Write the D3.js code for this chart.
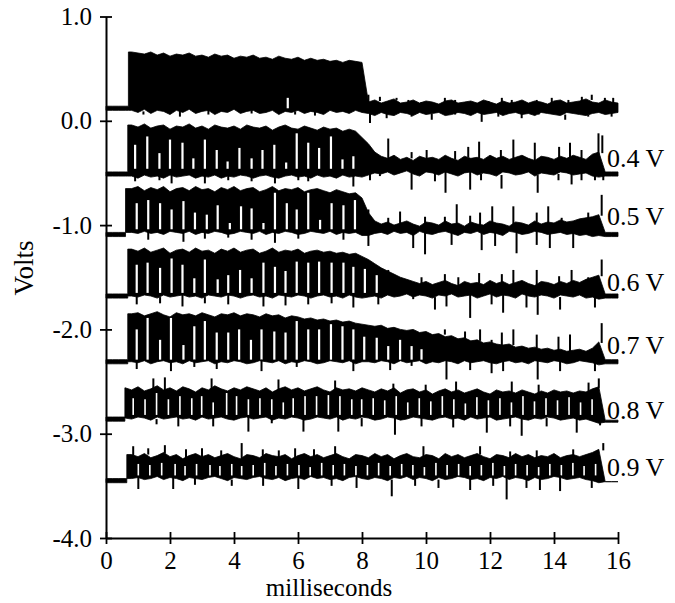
<!DOCTYPE html>
<html><head><meta charset="utf-8">
<script src="https://cdn.jsdelivr.net/npm/d3@7"></script>
<style>body{margin:0;background:#fff}svg{display:block}
.ser{font-family:"Liberation Serif","DejaVu Serif","Noto Serif","Tinos","FreeSerif","Nimbus Roman","Nimbus Roman No9 L","STIX Two Text","Georgia","Times New Roman",Times,serif}</style>
</head><body><svg id="chart" width="675" height="603"></svg>
<script>
// ---------- data ----------
const timeGrid = [0,0.2,0.4,0.6,0.8,1,1.2,1.4,1.6,1.8,2,2.2,2.4,2.6,2.8,3,3.2,3.4,3.6,3.8,4,4.2,4.4,4.6,4.8,5,5.2,5.4,5.6,5.8,6,6.2,6.4,6.6,6.8,7,7.2,7.4,7.6,7.8,8,8.2,8.4,8.6,8.8,9,9.2,9.4,9.6,9.8,10,10.2,10.4,10.6,10.8,11,11.2,11.4,11.6,11.8,12,12.2,12.4,12.6,12.8,13,13.2,13.4,13.6,13.8,14,14.2,14.4,14.6,14.8,15,15.2,15.4,15.6,15.8,16];
const xTickValues = [0,2,4,6,8,10,12,14,16];
const yTickValues = [1,0,-1,-2,-3,-4];
const yTickLabels = ["1.0","0.0","-1.0","-2.0","-3.0","-4.0"];
const traceLabels = ["", "0.4 V", "0.5 V", "0.6 V", "0.7 V", "0.8 V", "0.9 V"];
const labelLevels = [null, -0.36, -0.92, -1.55, -2.15, -2.78, -3.32];
const onsets = [0.70, 0.68, 0.61, 0.68, 0.68, 0.59, 0.65];

// upper / lower edge of the dense band of each trace (volts, on timeGrid)
const hi1 = [0.14,0.14,0.14,0.14,
0.66,0.65,0.64,0.66,0.63,0.65,0.62,0.64,0.63,0.65,0.62,0.63,0.61,0.64,0.62,0.63,0.60,0.62,0.61,0.63,0.60,0.61,0.59,0.62,0.60,0.59,0.61,0.58,0.60,0.58,0.59,0.57,0.58,0.56,0.58,0.57,0.56,
0.18,0.20,0.17,0.19,0.21,0.17,0.18,0.20,0.17,0.19,0.18,0.16,0.19,0.20,0.17,0.18,0.19,0.17,0.20,0.18,0.16,0.19,0.17,0.18,0.20,0.17,0.19,0.18,0.16,0.19,0.20,0.17,0.18,0.19,0.21,0.18,0.17,0.20,0.18,0.17];
const lo1 = [0.10,0.10,0.10,0.10,
0.10,0.08,0.11,0.07,0.10,0.09,0.06,0.10,0.08,0.11,0.07,0.09,0.10,0.06,0.09,0.08,0.11,0.07,0.09,0.10,0.07,0.08,0.10,0.06,0.09,0.08,0.10,0.07,0.09,0.08,0.06,0.10,0.08,0.09,0.07,0.10,0.08,
0.07,0.05,0.08,0.06,0.05,0.08,0.07,0.05,0.08,0.06,0.07,0.08,0.05,0.06,0.08,0.07,0.05,0.08,0.06,0.07,0.08,0.05,0.07,0.08,0.06,0.07,0.05,0.08,0.07,0.06,0.05,0.08,0.07,0.06,0.05,0.07,0.08,0.06,0.07,0.08];

const hi2 = [-0.49,-0.49,-0.49,-0.49,
-0.04,-0.06,-0.03,-0.07,-0.05,-0.04,-0.08,-0.05,-0.06,-0.03,-0.07,-0.05,-0.08,-0.04,-0.06,-0.07,-0.05,-0.08,-0.04,-0.06,-0.07,-0.05,-0.09,-0.06,-0.04,-0.07,-0.08,-0.05,-0.07,-0.09,-0.06,-0.08,-0.07,-0.10,-0.08,-0.10,-0.16,
-0.22,-0.30,-0.34,-0.36,-0.33,-0.37,-0.35,-0.38,-0.34,-0.36,-0.35,-0.37,-0.33,-0.36,-0.38,-0.34,-0.36,-0.35,-0.37,-0.33,-0.36,-0.34,-0.37,-0.35,-0.33,-0.36,-0.38,-0.34,-0.35,-0.37,-0.34,-0.36,-0.33,-0.35,-0.37,-0.32,-0.30,-0.49,-0.49,-0.49];
const lo2 = [-0.53,-0.53,-0.53,-0.53,
-0.53,-0.55,-0.52,-0.54,-0.53,-0.55,-0.52,-0.54,-0.53,-0.52,-0.55,-0.53,-0.54,-0.52,-0.55,-0.53,-0.54,-0.52,-0.53,-0.55,-0.53,-0.52,-0.54,-0.55,-0.53,-0.52,-0.54,-0.53,-0.55,-0.52,-0.54,-0.53,-0.55,-0.52,-0.54,-0.53,-0.54,
-0.52,-0.50,-0.51,-0.49,-0.52,-0.50,-0.48,-0.51,-0.53,-0.49,-0.50,-0.52,-0.49,-0.51,-0.53,-0.50,-0.49,-0.52,-0.50,-0.51,-0.53,-0.49,-0.50,-0.52,-0.51,-0.49,-0.53,-0.50,-0.51,-0.52,-0.49,-0.50,-0.52,-0.51,-0.50,-0.53,-0.54,-0.53,-0.53,-0.53];

const hi3 = [-1.07,-1.07,-1.07,-1.07,
-0.65,-0.63,-0.67,-0.64,-0.66,-0.63,-0.68,-0.65,-0.64,-0.67,-0.63,-0.66,-0.65,-0.68,-0.64,-0.66,-0.63,-0.67,-0.65,-0.64,-0.68,-0.66,-0.63,-0.67,-0.65,-0.66,-0.64,-0.68,-0.66,-0.65,-0.67,-0.69,-0.66,-0.68,-0.70,-0.69,-0.74,
-0.88,-0.96,-0.99,-0.97,-1.00,-0.98,-0.96,-0.99,-1.01,-0.97,-0.98,-1.00,-0.96,-0.99,-0.98,-1.01,-0.97,-0.99,-1.00,-0.96,-0.98,-0.99,-1.01,-0.97,-0.98,-1.00,-0.96,-0.99,-0.97,-0.98,-0.95,-0.97,-0.96,-0.94,-0.93,-0.92,-0.90,-1.07,-1.07,-1.07];
const lo3 = [-1.11,-1.11,-1.11,-1.11,
-1.07,-1.08,-1.06,-1.08,-1.07,-1.09,-1.06,-1.07,-1.08,-1.06,-1.09,-1.07,-1.08,-1.06,-1.07,-1.09,-1.08,-1.06,-1.07,-1.08,-1.06,-1.09,-1.07,-1.08,-1.06,-1.07,-1.09,-1.08,-1.06,-1.07,-1.08,-1.06,-1.09,-1.07,-1.08,-1.07,-1.10,
-1.10,-1.08,-1.07,-1.09,-1.06,-1.08,-1.07,-1.10,-1.06,-1.08,-1.09,-1.07,-1.06,-1.08,-1.10,-1.07,-1.08,-1.06,-1.09,-1.07,-1.08,-1.10,-1.06,-1.07,-1.09,-1.08,-1.06,-1.07,-1.09,-1.08,-1.07,-1.09,-1.08,-1.10,-1.09,-1.11,-1.10,-1.11,-1.11,-1.11];

const hi4 = [-1.66,-1.66,-1.66,-1.66,
-1.23,-1.25,-1.22,-1.26,-1.24,-1.22,-1.27,-1.24,-1.23,-1.26,-1.22,-1.25,-1.24,-1.27,-1.23,-1.25,-1.22,-1.26,-1.24,-1.23,-1.27,-1.25,-1.22,-1.26,-1.24,-1.25,-1.23,-1.27,-1.25,-1.24,-1.26,-1.25,-1.27,-1.26,-1.28,-1.27,-1.30,
-1.33,-1.37,-1.41,-1.44,-1.47,-1.50,-1.52,-1.54,-1.56,-1.54,-1.57,-1.55,-1.53,-1.56,-1.58,-1.54,-1.56,-1.55,-1.57,-1.53,-1.56,-1.54,-1.57,-1.55,-1.53,-1.56,-1.58,-1.54,-1.55,-1.57,-1.54,-1.56,-1.53,-1.55,-1.52,-1.50,-1.48,-1.66,-1.66,-1.66];
const lo4 = [-1.70,-1.70,-1.70,-1.70,
-1.68,-1.69,-1.67,-1.68,-1.70,-1.67,-1.69,-1.68,-1.67,-1.69,-1.68,-1.70,-1.67,-1.68,-1.69,-1.67,-1.68,-1.70,-1.68,-1.67,-1.69,-1.68,-1.70,-1.67,-1.68,-1.69,-1.67,-1.68,-1.70,-1.68,-1.67,-1.69,-1.68,-1.70,-1.67,-1.69,-1.70,
-1.69,-1.68,-1.70,-1.67,-1.69,-1.68,-1.66,-1.69,-1.67,-1.68,-1.70,-1.67,-1.68,-1.66,-1.69,-1.68,-1.67,-1.70,-1.68,-1.66,-1.69,-1.67,-1.68,-1.70,-1.66,-1.68,-1.69,-1.67,-1.68,-1.70,-1.67,-1.68,-1.69,-1.67,-1.70,-1.69,-1.71,-1.70,-1.70,-1.70];

const hi5 = [-2.29,-2.29,-2.29,-2.29,
-1.85,-1.84,-1.87,-1.85,-1.83,-1.86,-1.88,-1.84,-1.86,-1.85,-1.87,-1.84,-1.86,-1.88,-1.85,-1.86,-1.84,-1.87,-1.85,-1.86,-1.88,-1.85,-1.87,-1.86,-1.89,-1.87,-1.88,-1.90,-1.89,-1.91,-1.90,-1.92,-1.91,-1.93,-1.92,-1.94,-1.95,
-1.96,-1.97,-1.96,-1.99,-1.98,-2.00,-2.01,-2.00,-2.03,-2.02,-2.05,-2.04,-2.07,-2.06,-2.09,-2.08,-2.11,-2.10,-2.13,-2.12,-2.14,-2.15,-2.14,-2.17,-2.16,-2.18,-2.17,-2.19,-2.18,-2.20,-2.19,-2.21,-2.20,-2.19,-2.21,-2.18,-2.12,-2.29,-2.29,-2.29];
const lo5 = [-2.33,-2.33,-2.33,-2.33,
-2.31,-2.32,-2.30,-2.33,-2.31,-2.30,-2.32,-2.31,-2.33,-2.30,-2.32,-2.31,-2.30,-2.33,-2.31,-2.32,-2.30,-2.31,-2.33,-2.32,-2.30,-2.31,-2.32,-2.30,-2.33,-2.31,-2.32,-2.30,-2.31,-2.33,-2.32,-2.30,-2.31,-2.32,-2.30,-2.33,-2.31,
-2.31,-2.32,-2.30,-2.31,-2.33,-2.30,-2.32,-2.31,-2.30,-2.33,-2.31,-2.32,-2.30,-2.31,-2.33,-2.30,-2.32,-2.31,-2.30,-2.32,-2.33,-2.31,-2.30,-2.32,-2.31,-2.33,-2.30,-2.31,-2.32,-2.30,-2.31,-2.33,-2.32,-2.30,-2.31,-2.32,-2.34,-2.33,-2.33,-2.33];

const hi6 = [-2.84,-2.84,-2.84,
-2.56,-2.58,-2.55,-2.59,-2.57,-2.54,-2.58,-2.56,-2.59,-2.55,
-2.57,-2.60,-2.56,-2.58,-2.54,-2.57,-2.59,-2.56,-2.58,-2.55,
-2.57,-2.59,-2.56,-2.60,-2.57,-2.55,-2.58,-2.56,-2.59,-2.57,
-2.55,-2.58,-2.60,-2.56,-2.58,-2.57,-2.59,-2.56,-2.58,-2.60,
-2.57,-2.59,-2.56,-2.61,-2.58,-2.57,-2.60,-2.58,-2.62,-2.59,
-2.57,-2.60,-2.58,-2.61,-2.59,-2.57,-2.60,-2.62,-2.58,-2.60,
-2.59,-2.61,-2.58,-2.60,-2.62,-2.59,-2.61,-2.58,-2.60,-2.59,
-2.61,-2.59,-2.60,-2.57,-2.55,
-2.87,-2.87,-2.87];
const lo6 = [-2.88,-2.88,-2.88,
-2.85,-2.86,-2.84,-2.85,-2.87,-2.84,-2.86,-2.85,-2.84,-2.86,
-2.85,-2.87,-2.84,-2.86,-2.85,-2.84,-2.86,-2.87,-2.85,-2.84,
-2.86,-2.85,-2.84,-2.87,-2.85,-2.86,-2.84,-2.85,-2.87,-2.86,
-2.84,-2.85,-2.86,-2.84,-2.87,-2.85,-2.86,-2.84,-2.85,-2.87,
-2.86,-2.84,-2.85,-2.87,-2.86,-2.84,-2.85,-2.86,-2.87,-2.85,
-2.84,-2.86,-2.85,-2.87,-2.84,-2.86,-2.85,-2.84,-2.87,-2.86,
-2.85,-2.84,-2.86,-2.87,-2.85,-2.86,-2.84,-2.85,-2.87,-2.86,
-2.85,-2.87,-2.86,-2.88,-2.90,
-2.89,-2.89,-2.89];

const hi7 = [-3.43,-3.43,-3.43,-3.43,
-3.20,-3.22,-3.19,-3.23,-3.21,-3.18,-3.22,-3.20,-3.24,-3.21,
-3.19,-3.22,-3.20,-3.23,-3.21,-3.19,-3.22,-3.24,-3.20,-3.21,
-3.23,-3.19,-3.21,-3.22,-3.20,-3.24,-3.21,-3.19,-3.22,-3.20,
-3.23,-3.21,-3.19,-3.22,-3.24,-3.20,-3.21,-3.23,-3.19,-3.22,
-3.20,-3.24,-3.21,-3.19,-3.22,-3.23,-3.20,-3.21,-3.24,-3.19,
-3.22,-3.20,-3.23,-3.21,-3.19,-3.22,-3.24,-3.20,-3.21,-3.23,
-3.19,-3.22,-3.20,-3.23,-3.21,-3.22,-3.19,-3.23,-3.21,-3.20,
-3.22,-3.20,-3.18,-3.15,
-3.46,-3.46,-3.46];
const lo7 = [-3.47,-3.47,-3.47,-3.47,
-3.43,-3.42,-3.44,-3.43,-3.41,-3.44,-3.42,-3.43,-3.45,-3.42,
-3.43,-3.44,-3.42,-3.41,-3.43,-3.45,-3.42,-3.43,-3.44,-3.42,
-3.41,-3.43,-3.44,-3.42,-3.45,-3.43,-3.42,-3.44,-3.41,-3.43,
-3.42,-3.44,-3.43,-3.45,-3.42,-3.41,-3.43,-3.44,-3.42,-3.43,
-3.45,-3.42,-3.43,-3.41,-3.44,-3.42,-3.43,-3.45,-3.42,-3.44,
-3.43,-3.41,-3.42,-3.44,-3.43,-3.45,-3.42,-3.43,-3.41,-3.44,
-3.42,-3.43,-3.45,-3.42,-3.44,-3.43,-3.41,-3.42,-3.44,-3.43,
-3.42,-3.44,-3.45,-3.47,
-3.46,-3.46,-3.46];

// isolated spikes [ms, volts]
const spikes1 = [[1.17,0.06],[2.31,0.04],[3.20,0.06],[4.55,0.07],[5.91,0.06],[6.53,0.05],
[8.20,0.25],[8.56,0.23],[9.08,0.22],[9.45,0.20],[9.86,0.18],[10.59,0.22],[10.91,0.20],[11.38,0.18],[11.95,0.19],[12.37,0.22],[12.68,0.20],[12.99,0.17],[13.46,0.20],[13.93,0.22],[14.45,0.20],[14.87,0.23],[15.18,0.25],[15.59,0.22],[15.85,0.22],
[8.25,-0.02],[8.77,0.025],[9.55,0.04],[10.18,0.01],[10.91,0.06],[11.74,-0.01],[12.26,0.04],[12.99,0.025],[13.52,0.06],[14.35,0.01],[15.07,0.04],[15.80,0.04]];
const spikes2 = [[0.91,-0.58],[1.67,-0.57],[2.05,-0.60],[3.09,-0.60],[3.82,-0.57],[4.55,-0.58],[5.28,-0.60],[6.01,-0.57],[6.32,-0.58],[7.73,-0.63],
[8.82,-0.17],[9.55,-0.30],[10.02,-0.28],[10.91,-0.29],[11.32,-0.25],[11.66,-0.20],[12.34,-0.28],[12.73,-0.18],[13.40,-0.21],[14.16,-0.25],[14.50,-0.21],[14.86,-0.28],[15.39,-0.12],[15.51,-0.14],
[8.25,-0.57],[8.56,-0.53],[9.55,-0.66],[10.28,-0.58],[10.61,-0.69],[11.38,-0.66],[11.72,-0.57],[12.36,-0.65],[13.49,-0.69],[14.14,-0.57],[14.55,-0.61],[14.86,-0.57],[15.28,-0.57],[15.54,-0.57]];
const spikes3 = [[1.32,-1.14],[2.42,-1.16],[3.09,-1.13],[3.82,-1.12],[4.55,-1.14],[5.28,-1.17],[6.01,-1.13],[7.42,-1.14],[8.20,-1.20],
[8.20,-0.85],[8.82,-0.93],[9.19,-0.87],[9.97,-0.92],[10.59,-0.92],[10.96,-0.80],[11.38,-0.91],[11.69,-0.88],[12.07,-0.82],[12.73,-0.82],[13.46,-0.88],[13.82,-0.82],[14.24,-0.93],[15.07,-0.88],[15.49,-0.71],
[9.60,-1.22],[9.97,-1.28],[10.80,-1.19],[11.74,-1.24],[12.16,-1.20],[12.83,-1.27],[13.46,-1.19],[13.87,-1.22],[14.60,-1.22]];
const spikes4 = [[0.96,-1.76],[1.69,-1.75],[2.39,-1.78],[3.09,-1.75],[3.82,-1.76],[4.92,-1.78],[5.61,-1.77],[6.32,-1.76],[7.05,-1.75],[7.73,-1.79],
[8.82,-1.43],[9.86,-1.50],[10.59,-1.47],[11.01,-1.50],[11.66,-1.46],[12.37,-1.47],[12.73,-1.43],[13.46,-1.43],[14.16,-1.49],[14.55,-1.43],[15.07,-1.50],[15.49,-1.33],
[8.51,-1.76],[9.60,-1.71],[10.28,-1.81],[10.64,-1.78],[11.38,-1.89],[12.05,-1.76],[12.41,-1.84],[13.14,-1.79],[13.49,-1.86],[14.19,-1.81],[15.28,-1.79]];
const spikes5 = [[0.96,-2.38],[2.03,-2.40],[2.76,-2.36],[3.46,-2.38],[4.86,-2.40],[5.96,-2.36],[7.73,-2.40],
[8.88,-2.39],[9.55,-2.35],[10.64,-2.48],[11.38,-2.39],[12.05,-2.42],[12.41,-2.40],[13.49,-2.48],[14.19,-2.40],[15.28,-2.40],
[10.59,-2.00],[11.22,-2.02],[11.69,-2.00],[12.05,-2.10],[12.37,-2.03],[12.73,-2.00],[13.46,-2.05],[14.14,-2.07],[14.50,-2.05],[15.49,-1.94]];
const spikes6 = [[1.48,-2.47],[1.84,-2.46],[3.30,-2.47],[5.39,-2.48],[7.16,-2.49],[8.98,-2.52],[9.99,-2.53],[10.94,-2.50],[12.68,-2.50],[13.52,-2.53],[15.08,-2.51],[15.40,-2.47],
[1.58,-2.91],[2.26,-2.93],[3.35,-2.93],[4.45,-2.98],[5.18,-2.90],[6.17,-2.98],[7.26,-2.98],[7.99,-2.93],[9.03,-3.01],[9.86,-2.93],[10.85,-2.94],[11.90,-2.99],[12.63,-2.93],[12.99,-3.02],[13.77,-2.93],[14.71,-2.99],[15.44,-2.92]];
const spikes7 = [[0.85,-3.12],[1.32,-3.14],[1.84,-3.11],[2.50,-3.15],[3.00,-3.14],[3.60,-3.16],[4.24,-3.09],[4.90,-3.15],[5.40,-3.16],[5.91,-3.14],[6.50,-3.15],[7.16,-3.12],[9.92,-3.12],[11.69,-3.12],[12.63,-3.17],[13.46,-3.16],[14.60,-3.15],[15.54,-3.09],
[1.01,-3.53],[2.10,-3.53],[2.78,-3.49],[3.93,-3.50],[4.91,-3.50],[6.01,-3.53],[7.05,-3.50],[7.83,-3.52],[8.93,-3.60],[9.66,-3.50],[10.39,-3.52],[11.38,-3.54],[12.10,-3.50],[12.52,-3.63],[13.14,-3.52],[13.56,-3.54],[14.19,-3.55],[15.18,-3.52]];

// white gaps inside the dense band [ms, top volts]; gap floor per trace
const gapFloors = [0.12, -0.46, -1.04, -1.65, -2.29, -2.82, -3.40];
const gaps1 = [[5.68,0.22]];
const gaps2 = [[0.91,-0.23],[1.29,-0.15],[1.67,-0.31],[2.00,-0.18],[2.39,-0.21],[2.73,-0.36],[3.09,-0.18],[3.46,-0.28],[3.80,-0.39],[4.17,-0.26],[4.55,-0.36],[4.89,-0.28],[5.26,-0.23],[5.63,-0.40],[5.96,-0.12],[6.32,-0.21],[6.66,-0.26],[7.03,-0.15],[7.39,-0.37],[7.73,-0.34]];
const gaps3 = [[0.96,-0.79],[1.32,-0.76],[1.69,-0.79],[2.05,-0.85],[2.42,-0.77],[2.78,-0.88],[3.15,-0.90],[3.49,-0.81],[3.87,-0.98],[4.22,-0.82],[4.55,-0.84],[4.92,-0.98],[5.28,-0.69],[5.65,-0.79],[5.96,-0.85],[6.32,-0.69],[6.69,-0.95],[7.05,-0.79],[7.42,-0.81],[7.78,-0.76]];
const gaps4 = [[0.96,-1.38],[1.30,-1.36],[1.69,-1.41],[2.05,-1.32],[2.39,-1.38],[2.76,-1.51],[3.09,-1.33],[3.49,-1.52],[3.82,-1.48],[4.19,-1.43],[4.55,-1.51],[4.92,-1.36],[5.28,-1.40],[5.61,-1.44],[5.96,-1.35],[6.32,-1.36],[6.66,-1.35],[7.05,-1.36],[7.42,-1.36],[7.73,-1.40],[8.09,-1.42],[8.46,-1.48]];
const gaps5 = [[0.96,-2.00],[1.30,-1.89],[1.69,-2.10],[2.03,-1.89],[2.42,-2.15],[2.76,-1.97],[3.09,-1.92],[3.46,-2.03],[3.82,-2.03],[4.16,-2.00],[4.53,-2.10],[4.86,-2.00],[5.26,-2.02],[5.61,-2.03],[5.96,-1.92],[6.32,-2.00],[6.66,-2.00],[7.03,-1.95],[7.39,-1.97],[7.73,-2.00],[8.07,-2.07],[8.46,-2.08],[8.82,-2.16],[9.19,-2.10],[9.55,-2.16],[9.86,-2.19]];
const gaps6 = [[0.85,-2.66],[1.22,-2.67],[1.58,-2.61],[1.95,-2.67],[2.31,-2.64],[2.68,-2.66],[2.99,-2.64],[3.35,-2.70],[3.77,-2.61],[4.08,-2.64],[4.45,-2.67],[4.81,-2.66],[5.18,-2.67],[5.54,-2.70],[5.85,-2.66],[6.22,-2.64],[6.58,-2.64],[6.95,-2.63],[7.31,-2.64],[7.68,-2.67],[7.99,-2.67],[8.35,-2.66],
[8.71,-2.68],[9.07,-2.64],[9.43,-2.70],[9.79,-2.66],[10.15,-2.69],[10.51,-2.64],[10.87,-2.67],[11.23,-2.71],[11.59,-2.65],[11.95,-2.68],[12.31,-2.66],[12.67,-2.70],[13.03,-2.64],[13.39,-2.69],[13.75,-2.66],[14.11,-2.68],[14.47,-2.65],[14.83,-2.70],[15.19,-2.67]];
const gaps7 = [[1.01,-3.29],[1.37,-3.30],[1.74,-3.28],[2.16,-3.29],[2.47,-3.31],[2.83,-3.29],[3.25,-3.30],[3.56,-3.31],[3.93,-3.29],[4.24,-3.31],[4.60,-3.30],[4.96,-3.28],[5.31,-3.31],[5.67,-3.29],[6.03,-3.30],[6.38,-3.32],[6.74,-3.28],[7.10,-3.30],[7.45,-3.29],[7.81,-3.31],[8.17,-3.30],[8.52,-3.28],[8.88,-3.31],[9.24,-3.29],[9.59,-3.30],[9.95,-3.32],[10.31,-3.28],[10.66,-3.30],[11.02,-3.29],[11.38,-3.31],[11.73,-3.30],[12.09,-3.28],[12.45,-3.31],[12.80,-3.29],[13.16,-3.30],[13.52,-3.32],[13.87,-3.29],[14.23,-3.30],[14.59,-3.28],[14.94,-3.31],[15.30,-3.29]];

const highs = [hi1, hi2, hi3, hi4, hi5, hi6, hi7];
const lows = [lo1, lo2, lo3, lo4, lo5, lo6, lo7];
const spikeSets = [spikes1, spikes2, spikes3, spikes4, spikes5, spikes6, spikes7];
const gapSets = [gaps1, gaps2, gaps3, gaps4, gaps5, gaps6, gaps7];

// ---------- drawing ----------
const svg = d3.select("#chart");
const x = d3.scaleLinear().domain([0, 16]).range([106, 618]);
const y = d3.scaleLinear().domain([-4, 1]).range([538, 16.5]);

const area = d3.area()
  .defined(d => d.hi != null && d.lo != null)
  .x(d => x(d.t)).y0(d => y(d.lo)).y1(d => y(d.hi))
  .curve(d3.curveLinear);

const traces = svg.append("g");
highs.forEach((hi, k) => {
  const lo = lows[k];
  const pts = [];
  let started = false;
  timeGrid.forEach((t, i) => {
    if (!started && t >= onsets[k]) {
      started = true;
      pts.push({t: onsets[k], hi: hi[Math.max(0, i - 1)], lo: lo[Math.max(0, i - 1)]});
      pts.push({t: onsets[k], hi: hi[i], lo: lo[i]});
    }
    pts.push({t, hi: hi[i], lo: lo[i]});
  });
  const g = traces.append("g");
  g.append("path").datum(pts).attr("d", area)
    .attr("fill", "#000").attr("stroke", "#000").attr("stroke-width", 0.8).attr("stroke-linejoin", "miter");

  const idx = t => Math.max(0, Math.min(timeGrid.length - 1, d3.bisectRight(timeGrid, t) - 1));
  const gw = k >= 5 ? 1.6 : 2.2;

  g.selectAll("rect.gap").data(gapSets[k]).join("rect")
    .attr("x", d => x(d[0]) - gw / 2).attr("width", gw)
    .attr("y", d => y(d[1])).attr("height", d => Math.max(0, y(gapFloors[k]) - y(d[1])))
    .attr("fill", "#fff");

  g.selectAll("line.spike").data(spikeSets[k]).join("line")
    .attr("x1", d => x(d[0])).attr("x2", d => x(d[0]))
    .attr("y1", d => { const i = idx(d[0]); return y(d[1] > hi[i] ? hi[i] - 0.01 : (d[1] < lo[i] ? lo[i] + 0.01 : (hi[i] + lo[i]) / 2)); })
    .attr("y2", d => y(d[1]))
    .attr("stroke", "#000").attr("stroke-width", 2);
});

// axes
const yAxis = d3.axisLeft(y).tickValues(yTickValues)
  .tickFormat((d, i) => yTickLabels[i]).tickSizeInner(6).tickSizeOuter(0).tickPadding(8);
const gy = svg.append("g").attr("transform", `translate(${x(0)},0)`).call(yAxis);
gy.selectAll(".tick line").attr("x1", 6);
const xAxis = d3.axisBottom(x).tickValues(xTickValues)
  .tickFormat(d3.format("d")).tickSizeInner(6).tickSizeOuter(0).tickPadding(7);
const gx = svg.append("g").attr("transform", `translate(0,${y(-4)})`).call(xAxis);
gx.selectAll(".tick line").attr("y1", -6);
[gx, gy].forEach(g => {
  g.attr("font-family", null).attr("font-size", null);
  g.select(".domain").attr("stroke", "#000").attr("stroke-width", 2);
  g.selectAll(".tick line").attr("stroke", "#000").attr("stroke-width", 1.8);
  g.selectAll(".tick text").attr("fill", "#000").attr("class", "ser").style("font-size", "25px");
});

// trace labels
svg.append("g").selectAll("text").data(traceLabels.map((s, i) => ({s, v: labelLevels[i]})).filter(d => d.s))
  .join("text").attr("class", "ser")
  .attr("x", x(16) - 11).attr("y", d => y(d.v))
  .attr("dominant-baseline", "central")
  .style("font-size", "26px").attr("fill", "#000")
  .text(d => d.s);

// axis titles
svg.append("text").attr("class", "ser").attr("x", 329).attr("y", 596).attr("text-anchor", "middle")
  .style("font-size", "25px").text("milliseconds");
svg.append("text").attr("class", "ser").attr("transform", "translate(24,268) rotate(-90)")
  .attr("text-anchor", "middle").attr("dominant-baseline", "central")
  .style("font-size", "27px").text("Volts");
</script></body></html>
